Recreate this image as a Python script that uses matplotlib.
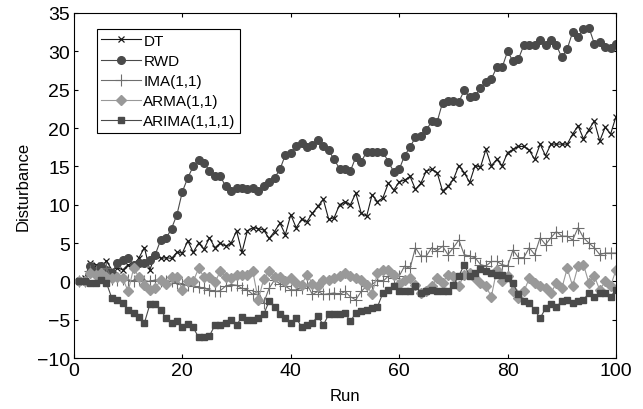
import numpy as np
import matplotlib
matplotlib.use('Agg')
import matplotlib.pyplot as plt

plt.rcParams['font.family'] = ['Liberation Sans', 'DejaVu Sans']

# Run index
run = list(range(1, 101))

dt = [0.0, 0.5, 2.4, 2.2, 1.8, 2.7, 1.5, 1.8, 1.5, 2.2,
      2.0, 3.1, 4.4, 1.5, 3.5, 3.0, 3.1, 3.0, 3.8, 3.7,
      5.3, 3.8, 5.0, 4.2, 5.7, 4.4, 5.0, 4.6, 5.0, 6.6,
      3.8, 6.6, 7.0, 6.9, 6.7, 5.6, 6.5, 7.6, 6.1, 8.7,
      7.0, 8.1, 7.8, 8.9, 9.8, 10.7, 8.1, 8.3, 10.0, 10.4,
      10.0, 11.5, 8.9, 8.5, 11.3, 10.4, 10.9, 12.8, 11.9, 13.0,
      13.2, 13.7, 12.0, 12.8, 14.4, 14.6, 14.2, 11.8, 12.4, 13.3,
      15.1, 14.2, 12.9, 15.1, 14.9, 17.2, 15.1, 15.9, 15.1, 16.8,
      17.2, 17.6, 17.6, 17.1, 15.9, 17.9, 16.4, 17.9, 17.9, 17.9,
      17.9, 19.2, 20.3, 18.6, 19.8, 20.9, 18.3, 20.1, 19.2, 21.5]

rwd = [0.0, 0.0, 2.0, 1.3, 2.0, 1.5, 1.1, 2.4, 2.8, 3.0,
       2.2, 2.4, 2.4, 2.8, 3.5, 5.4, 5.6, 6.9, 8.7, 11.7,
       13.5, 15.0, 15.8, 15.5, 14.4, 13.7, 13.7, 12.4, 11.8, 12.2,
       12.2, 12.0, 12.2, 11.8, 12.4, 12.9, 13.5, 14.6, 16.5, 16.7,
       17.6, 18.1, 17.5, 17.8, 18.5, 17.6, 17.1, 15.9, 14.7, 14.7,
       14.4, 16.2, 15.6, 16.9, 16.9, 16.9, 16.9, 15.6, 14.3, 14.6,
       16.4, 17.5, 18.8, 18.9, 19.7, 20.9, 20.8, 23.3, 23.5, 23.5,
       23.4, 24.9, 24.0, 24.2, 25.2, 26.0, 26.4, 27.9, 27.9, 30.0,
       28.7, 29.0, 30.8, 30.8, 30.8, 31.5, 30.8, 31.5, 30.8, 29.2,
       30.3, 32.5, 31.9, 32.9, 33.1, 31.0, 31.2, 30.5, 30.4, 31.0]

ima = [0.0, 0.0, 1.3, 1.3, 1.0, 1.8, 0.3, 0.2, 0.3, 0.2,
       0.0, 0.3, 0.1, 0.0, 0.2, 0.1, 0.0, 0.0, -0.2, -0.3,
       -0.5, -0.6, -0.7, -0.9, -1.1, -1.3, -1.2, -0.6, -0.4, -0.5,
       -0.9, -1.1, -1.7, -1.3, -2.8, -0.9, 0.2, -0.3, -0.6, -1.1,
       -1.1, -0.9, -0.4, -1.7, -1.3, -1.7, -1.6, -1.5, -1.7, -1.3,
       -2.0, -2.4, -1.3, -0.6, -0.4, 0.2, 0.0, 0.7, 0.4, 0.7,
       2.0, 1.7, 4.4, 3.3, 3.3, 4.4, 4.0, 4.6, 3.5, 4.4,
       5.4, 3.5, 3.3, 3.1, 2.2, 2.0, 2.6, 2.6, 2.2, 2.0,
       4.1, 3.1, 3.1, 4.4, 3.5, 5.7, 4.8, 5.7, 6.5, 5.9,
       5.9, 5.4, 7.0, 5.7, 5.0, 4.4, 3.5, 3.7, 3.7, 3.7]

arma = [0.0, 0.0, 1.1, 0.9, 1.1, 0.6, 0.4, 0.6, 0.4, -1.3,
        1.7, 0.6, -0.4, -1.1, -0.9, 0.2, -0.3, 0.6, 0.6, -1.1,
        0.0, 0.0, 1.7, 0.6, 0.6, -0.1, 1.3, 0.6, 0.4, 0.9,
        0.8, 0.9, 1.3, -2.4, 0.3, 1.3, 0.6, 0.6, 0.0, 0.4,
        -0.2, -0.4, 0.9, -0.3, -0.6, 0.2, 0.2, 0.4, 0.7, 1.1,
        0.7, 0.4, 0.2, -0.4, -1.7, 1.1, 1.5, 1.5, 0.9, -0.3,
        0.2, 0.4, -0.5, -1.5, -1.3, -0.6, 0.4, -0.2, 0.9, 0.7,
        -0.6, 0.9, 1.1, 0.4, -0.2, -0.6, -2.0, 1.5, 0.0, 0.7,
        -1.3, -2.2, -1.3, 0.4, -0.2, -0.6, -0.9, -1.5, -0.2, -0.9,
        1.7, -0.6, 2.0, 2.2, -0.2, 0.7, -1.1, 0.0, -0.6, 1.5]

arima = [0.0, 0.0, -0.2, -0.2, 0.2, -0.2, -2.2, -2.4, -2.8, -3.7,
         -4.1, -4.6, -5.4, -3.0, -3.0, -3.7, -4.8, -5.4, -5.2, -5.9,
         -5.6, -6.0, -7.3, -7.2, -7.1, -5.7, -5.7, -5.4, -5.0, -5.7,
         -4.6, -5.0, -5.0, -4.8, -4.3, -2.6, -3.3, -4.3, -4.8, -5.4,
         -4.8, -5.9, -5.7, -5.4, -4.5, -5.7, -4.3, -4.3, -4.3, -4.1,
         -5.2, -4.1, -3.9, -3.7, -3.5, -3.3, -1.5, -1.1, -0.6, -1.3,
         -1.3, -1.3, -0.6, -1.5, -1.3, -1.1, -1.2, -1.3, -1.3, -0.4,
         0.7, 2.2, 0.7, 1.1, 1.6, 1.4, 1.1, 0.9, 0.8, 0.4,
         -0.2, -1.7, -2.6, -2.8, -3.7, -4.8, -3.5, -3.0, -3.3, -2.6,
         -2.4, -2.8, -2.6, -2.4, -1.5, -2.0, -1.5, -1.5, -2.0, -1.1]

fig = plt.figure(figsize=(6.43, 4.10), dpi=100)
ax = fig.add_axes([0.115, 0.124, 0.843, 0.842])

ax.plot(run, dt, color='#1a1a1a', lw=0.8, marker='x', ms=5, mew=0.9, label='DT')
ax.plot(run, rwd, color='#4a4a4a', lw=0.8, marker='o', ms=5.5, label='RWD')
ax.plot(run, ima, color='#6e6e6e', lw=0.8, marker='+', ms=8, mew=0.8, label='IMA(1,1)')
ax.plot(run, arma, color='#999999', lw=0.8, marker='D', ms=5, label='ARMA(1,1)')
ax.plot(run, arima, color='#4a4a4a', lw=0.8, marker='s', ms=5, label='ARIMA(1,1,1)')

ax.set_xlim(0, 100)
ax.set_ylim(-10, 35)
ax.set_xticks(range(0, 101, 20))
ax.set_yticks(range(-10, 36, 5))
ax.tick_params(direction='in', top=True, right=True, labelsize=14, length=3, pad=3)
ax.set_xlabel('Run', fontsize=12, labelpad=6)
ax.set_ylabel('Disturbance', fontsize=12, labelpad=4)

leg = ax.legend(loc='upper left', bbox_to_anchor=(0.028, 0.975), fontsize=11,
                fancybox=False, framealpha=1, edgecolor='black',
                handlelength=2.6, handletextpad=0.15, borderpad=0.3, labelspacing=0.4)
leg.get_frame().set_linewidth(0.8)

fig.savefig('out.png', dpi=100)
